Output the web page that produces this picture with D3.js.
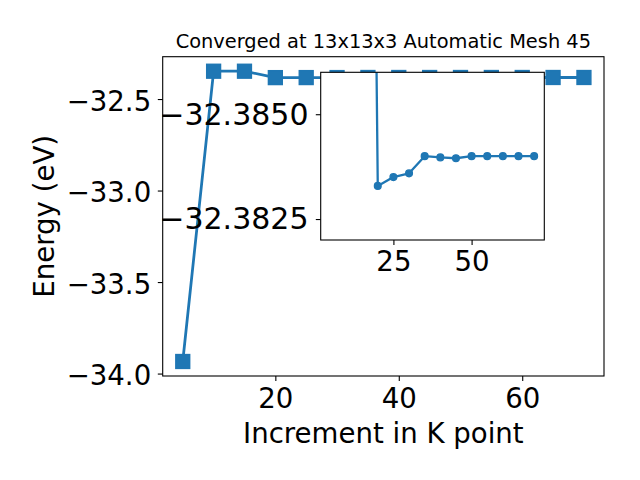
<!DOCTYPE html>
<html>
<head>
<meta charset="utf-8">
<script src="https://cdn.jsdelivr.net/npm/d3@7"></script>
<style>
  html, body { margin: 0; padding: 0; background: #fff; }
  svg { display: block; font-family: "DejaVu Sans", sans-serif; }
</style>
</head>
<body>
<svg id="chart" width="640" height="480"></svg>
<script>
// ---------------- data ----------------
const kpoints = [5, 10, 15, 20, 25, 30, 35, 40, 45, 50, 55, 60, 65, 70];
const energy = [-33.934, -32.348, -32.348, -32.38300, -32.38279, -32.38270,
                 -32.38229, -32.38232, -32.38234, -32.38229, -32.38229,
                 -32.38229, -32.38229, -32.38229];
const insetFromK = 15;
const mainXTicks = [20, 40, 60];
const mainYTicks = [-34.0, -33.5, -33.0, -32.5];
const insetXTicks = [25, 50];
const insetYDomain = [-32.38429, -32.38029];
const insetYTicks = [-32.38129, -32.38379];
const insetYTickLabels = ["\u221232.3850", "\u221232.3825"];
const titleText = "Converged at 13x13x3 Automatic Mesh 45";
const xLabelText = "Increment in K point";
const yLabelText = "Energy (eV)";

// ---------------- setup ----------------
const color = "#1f77b4";
const fs = 27.6;
const insetYFs = 30;
const titleFs = 19.4;
const tickLen = 4.9;
const svg = d3.select("#chart");
const data = kpoints.map((k, i) => ({ k, e: energy[i] }));
const insetData = data.filter(d => d.k >= insetFromK);
const fmtMinus = s => s.replace("-", "\u2212");

// main axes box
const M = { left: 162.7, right: 604, top: 56.7, bottom: 376 };
const xExt = d3.extent(kpoints), xPad = (xExt[1] - xExt[0]) * 0.05;
const yExt = d3.extent(energy), yPad = (yExt[1] - yExt[0]) * 0.05;
const x = d3.scaleLinear().domain([xExt[0] - xPad, xExt[1] + xPad]).range([M.left, M.right]);
const y = d3.scaleLinear().domain([yExt[0] - yPad, yExt[1] + yPad]).range([M.bottom, M.top]);

const line = (xs, ys) => d3.line().x(d => xs(d.k)).y(d => ys(d.e));
const defs = svg.append("defs");

// main axes
const gMain = svg.append("g");
gMain.append("rect").attr("x", M.left).attr("y", M.top)
  .attr("width", M.right - M.left).attr("height", M.bottom - M.top).attr("fill", "#fff");
defs.append("clipPath").attr("id", "clipMain")
  .append("rect").attr("x", M.left).attr("y", M.top)
  .attr("width", M.right - M.left).attr("height", M.bottom - M.top);

const mainPlot = gMain.append("g").attr("clip-path", "url(#clipMain)");
mainPlot.append("path").datum(data).attr("d", line(x, y))
  .attr("fill", "none").attr("stroke", color).attr("stroke-width", 2.78)
  .attr("stroke-linejoin", "round");
const ms = 13.9;
mainPlot.selectAll("rect.mk").data(data).enter().append("rect").attr("class", "mk")
  .attr("x", d => x(d.k) - ms / 2).attr("y", d => y(d.e) - ms / 2)
  .attr("width", ms).attr("height", ms)
  .attr("fill", color).attr("stroke", color).attr("stroke-width", 1.39);

// main x axis
const gx = gMain.append("g").attr("transform", `translate(0,${M.bottom})`)
  .call(d3.axisBottom(x).tickValues(mainXTicks).tickSizeOuter(0).tickSizeInner(tickLen).tickFormat(d3.format("d")));
gx.select(".domain").remove();
gx.selectAll(".tick line").attr("stroke", "#000").attr("stroke-width", 1.1);
gx.selectAll(".tick text").attr("font-size", fs).attr("fill", "#000")
  .attr("dy", null).attr("y", 32.2).attr("font-family", "DejaVu Sans");

// main y axis
const gy = gMain.append("g").attr("transform", `translate(${M.left},0)`)
  .call(d3.axisLeft(y).tickValues(mainYTicks).tickSizeOuter(0).tickSizeInner(tickLen).tickPadding(6.6)
    .tickFormat(d => fmtMinus(d3.format(".1f")(d))));
gy.select(".domain").remove();
gy.selectAll(".tick line").attr("stroke", "#000").attr("stroke-width", 1.1);
gy.selectAll(".tick text").attr("font-size", fs).attr("fill", "#000")
  .attr("dy", null).attr("y", 11.2).attr("font-family", "DejaVu Sans");

gMain.append("rect").attr("x", M.left).attr("y", M.top)
  .attr("width", M.right - M.left).attr("height", M.bottom - M.top)
  .attr("fill", "none").attr("stroke", "#000").attr("stroke-width", 1.1);

// labels
svg.append("text").attr("x", (M.left + M.right) / 2).attr("y", 48.4)
  .attr("text-anchor", "middle").attr("font-size", titleFs).attr("fill", "#000").text(titleText);
svg.append("text").attr("x", (M.left + M.right) / 2).attr("y", 442.5)
  .attr("text-anchor", "middle").attr("font-size", fs).attr("fill", "#000").text(xLabelText);
svg.append("text").attr("transform", `translate(53.5,${(M.top + M.bottom) / 2}) rotate(-90)`)
  .attr("text-anchor", "middle").attr("font-size", fs).attr("fill", "#000").text(yLabelText);

// ---------------- inset ----------------
const I = { left: 320.7, right: 544.3, top: 72.3, bottom: 240 };
const xi = d3.scaleLinear().domain(x.domain()).range([I.left, I.right]);
const yi = d3.scaleLinear().domain(insetYDomain).range([I.bottom, I.top]);
const gIn = svg.append("g");
gIn.append("rect").attr("x", I.left).attr("y", I.top)
  .attr("width", I.right - I.left).attr("height", I.bottom - I.top).attr("fill", "#fff");
defs.append("clipPath").attr("id", "clipIn")
  .append("rect").attr("x", I.left).attr("y", I.top)
  .attr("width", I.right - I.left).attr("height", I.bottom - I.top);
const inPlot = gIn.append("g").attr("clip-path", "url(#clipIn)");
inPlot.append("path").datum(insetData).attr("d", line(xi, yi))
  .attr("fill", "none").attr("stroke", color).attr("stroke-width", 2.3)
  .attr("stroke-linejoin", "round");
inPlot.selectAll("circle").data(insetData).enter().append("circle")
  .attr("cx", d => xi(d.k)).attr("cy", d => yi(d.e)).attr("r", 3.4)
  .attr("fill", color).attr("stroke", color).attr("stroke-width", 1.3);

const gxi = gIn.append("g").attr("transform", `translate(0,${I.bottom})`)
  .call(d3.axisBottom(xi).tickValues(insetXTicks).tickSizeOuter(0).tickSizeInner(tickLen).tickFormat(d3.format("d")));
gxi.select(".domain").remove();
gxi.selectAll(".tick line").attr("stroke", "#000").attr("stroke-width", 1.1);
gxi.selectAll(".tick text").attr("font-size", fs).attr("fill", "#000")
  .attr("dy", null).attr("y", 31.2).attr("font-family", "DejaVu Sans");

const gyi = gIn.append("g").attr("transform", `translate(${I.left},0)`)
  .call(d3.axisLeft(yi).tickValues(insetYTicks).tickSizeOuter(0).tickSizeInner(tickLen).tickPadding(7.3)
    .tickFormat((d, i) => insetYTickLabels[i]));
gyi.select(".domain").remove();
gyi.selectAll(".tick line").attr("stroke", "#000").attr("stroke-width", 1.1);
gyi.selectAll(".tick text").attr("font-size", insetYFs).attr("fill", "#000")
  .attr("dy", null).attr("y", 9.8).attr("font-family", "DejaVu Sans");

gIn.append("rect").attr("x", I.left).attr("y", I.top)
  .attr("width", I.right - I.left).attr("height", I.bottom - I.top)
  .attr("fill", "none").attr("stroke", "#000").attr("stroke-width", 1.1);
</script>
</body>
</html>
